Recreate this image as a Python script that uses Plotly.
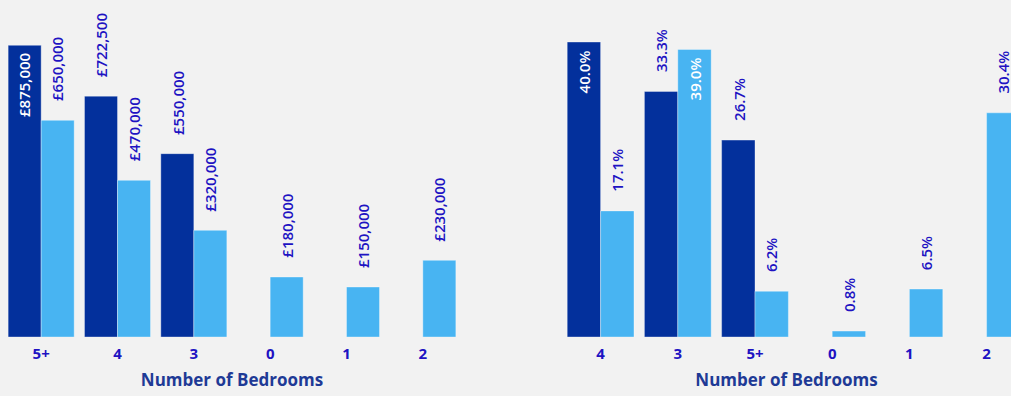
import plotly.graph_objects as go

# Median price by number of bedrooms
price_cats = ["5+", "4", "3", "0", "1", "2"]
price_dark = [875000, 722500, 550000, None, None, None]
price_light = [650000, 470000, 320000, 180000, 150000, 230000]

# Share of sales by number of bedrooms (%)
share_cats = ["4", "3", "5+", "0", "1", "2"]
share_dark = [40.0, 33.3, 26.7, None, None, None]
share_light = [17.1, 39.0, 6.2, 0.8, 6.5, 30.4]

DARK = "#03309C"
LIGHT = "#48B4F2"
BG = "#F2F2F2"
LABEL = "#2012C2"
TITLE = "#1E3A96"
FONT = "Segoe UI, Open Sans, Noto Sans, sans-serif"

W, H = 1011, 396
BARGAP = 0.135
HALF = (1 - BARGAP) / 4  # offset of each bar centre from the category centre

price_max = 1011000
share_max = 45.7

fig = go.Figure()

def add_bars(values, color, xa, ya):
    fig.add_trace(go.Bar(
        x=list(range(len(values))), y=values,
        marker=dict(color=color, line=dict(color="rgba(255,255,255,0.35)", width=1)),
        xaxis=xa, yaxis=ya, showlegend=False, hoverinfo="skip",
    ))

add_bars(price_dark, DARK, "x", "y")
add_bars(price_light, LIGHT, "x", "y")
add_bars(share_dark, DARK, "x2", "y2")
add_bars(share_light, LIGHT, "x2", "y2")

def add_labels(values, side, fmt, xref, yref, ymax):
    for i, v in enumerate(values):
        if v is None:
            continue
        inside = v > 0.8 * ymax
        fig.add_annotation(
            x=i + side * HALF, y=v, xref=xref, yref=yref,
            text=fmt(v), textangle=-90, showarrow=False,
            xanchor="center", yanchor="top" if inside else "bottom",
            yshift=-6 if inside else 17,
            font=dict(family=FONT, size=15, color="white" if inside else LABEL, weight=600),
        )

fmt_price = lambda v: "£{:,.0f}".format(v)
fmt_share = lambda v: "{:.1f}%".format(v)
add_labels(price_dark, -1, fmt_price, "x", "y", price_max)
add_labels(price_light, 1, fmt_price, "x", "y", price_max)
add_labels(share_dark, -1, fmt_share, "x2", "y2", share_max)
add_labels(share_light, 1, fmt_share, "x2", "y2", share_max)

axis_common = dict(
    tickmode="array", showgrid=False, zeroline=False, showline=False,
    ticks="outside", ticklen=3, tickcolor=BG,
    tickfont=dict(family=FONT, size=15, color=LABEL, weight="bold"),
    title=dict(text="Number of Bedrooms", standoff=12,
               font=dict(family=FONT, size=17, color=TITLE, weight="bold")),
    fixedrange=True,
)

fig.update_layout(
    width=W, height=H,
    margin=dict(l=0, r=0, t=0, b=59),
    paper_bgcolor=BG, plot_bgcolor=BG,
    barmode="group", bargap=BARGAP, bargroupgap=0,
    xaxis=dict(axis_common, domain=[3 / W, 461 / W], range=[-0.5, 5.5],
               tickvals=list(range(len(price_cats))), ticktext=price_cats),
    xaxis2=dict(axis_common, domain=[562 / W, 1.0], range=[-0.5, 5.316],
                tickvals=list(range(len(share_cats))), ticktext=share_cats, anchor="y2"),
    yaxis=dict(range=[0, price_max], visible=False, fixedrange=True),
    yaxis2=dict(range=[0, share_max], visible=False, fixedrange=True, anchor="x2"),
)

fig.write_html("out.html")
